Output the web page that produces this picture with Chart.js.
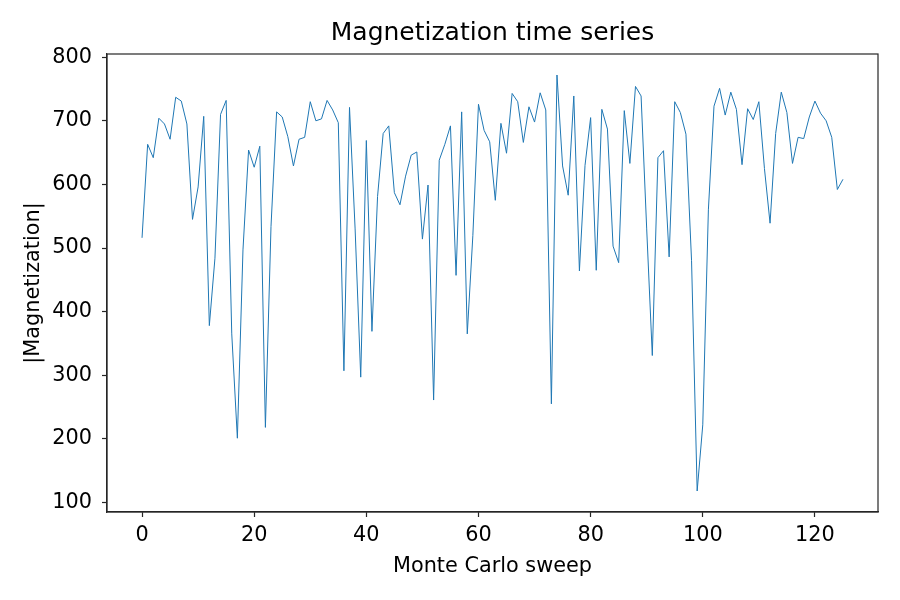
<!DOCTYPE html>
<html>
<head>
<meta charset="utf-8">
<title>Magnetization time series</title>
<script src="https://cdn.jsdelivr.net/npm/chart.js@4.4.1/dist/chart.umd.min.js"></script>
<style>
	html, body { margin: 0; padding: 0; background: #fff; }
	canvas { display: block; }
</style>
</head>
<body>
<canvas id="my_chart" width="900" height="600"></canvas>
<script>

// Data
const magnetization = [
	516, 663, 642, 704, 695, 671, 737, 731, 695, 545,
	596, 707, 378, 484, 710, 732, 365, 201, 497, 654,
	627, 660, 218, 534, 714, 706, 675, 629, 671, 674,
	730, 700, 703, 732, 717, 697, 307, 721, 530, 297,
	669, 369, 581, 680, 692, 587, 568, 613, 646, 651,
	514, 599, 261, 638, 663, 692, 457, 714, 365, 520,
	726, 685, 667, 575, 696, 649, 743, 730, 666, 722,
	698, 744, 717, 255, 772, 629, 583, 739, 464, 630,
	705, 465, 718, 687, 503, 477, 716, 633, 754, 739,
	530, 331, 642, 653, 486, 730, 713, 679, 480, 118,
	222, 560, 723, 751, 709, 745, 718, 631, 719, 702,
	730, 625, 539, 680, 745, 713, 633, 674, 672, 706,
	731, 712, 700, 674, 592, 608
]
const x_ticks = [0, 20, 40, 60, 80, 100, 120]
const y_ticks = [100, 200, 300, 400, 500, 600, 700, 800]

const font_family = "'DejaVu Sans', 'Liberation Sans', sans-serif"
const axis_color = '#262626'

// Draw the top and right spines like a boxed axes
const frame = {
	id: 'frame',
	afterDraw(chart) {
		const { ctx, chartArea } = chart
		ctx.save()
		ctx.strokeStyle = axis_color
		ctx.lineWidth = 1.2
		ctx.strokeRect(chartArea.left, chartArea.top,
			chartArea.right - chartArea.left, chartArea.bottom - chartArea.top)
		ctx.restore()
	}
}

var ctx = document.getElementById('my_chart')
var chart = new Chart(ctx, {
	type: 'line',
	data: {
		datasets: [{
			data: magnetization.map((m, i) => ({ x: i, y: m })),
			borderColor: '#1f77b4',
			borderWidth: 1,
			pointRadius: 0,
			tension: 0,
			fill: false
		}]
	},
	plugins: [frame],
	options: {
		responsive: false,
		animation: false,
		devicePixelRatio: 1,
		layout: {
			padding: { left: 0, right: 22, top: 0, bottom: 0 }
		},
		plugins: {
			legend: { display: false },
			tooltip: { enabled: false },
			title: {
				display: true,
				fullSize: false,	// center over the plot area, not the canvas
				text: 'Magnetization time series',
				color: '#000',
				font: { family: font_family, size: 25, weight: 'normal', lineHeight: 1.2 },
				padding: { top: 18, bottom: 6 }
			}
		},
		scales: {
			x: {
				type: 'linear',
				min: -6.25,
				max: 131.25,
				afterBuildTicks: (scale) => { scale.ticks = x_ticks.map(v => ({ value: v })) },
				afterFit: (scale) => { scale.height = 88 },
				grid: { drawOnChartArea: false, drawTicks: true, tickLength: 5, tickWidth: 1.2, color: axis_color },
				border: { display: true, color: axis_color, width: 1.2 },
				ticks: {
					color: '#000',
					padding: 6,
					maxRotation: 0,
					font: { family: font_family, size: 20.8, lineHeight: 1.2 }
				},
				title: {
					display: true,
					text: 'Monte Carlo sweep',
					color: '#000',
					font: { family: font_family, size: 20.8, lineHeight: 1.2 },
					padding: { top: 0, bottom: 21 }
				}
			},
			y: {
				type: 'linear',
				min: 85,
				max: 805,
				afterBuildTicks: (scale) => { scale.ticks = y_ticks.map(v => ({ value: v })) },
				afterFit: (scale) => { scale.width = 107 },
				grid: { drawOnChartArea: false, drawTicks: true, tickLength: 5, tickWidth: 1.2, color: axis_color },
				border: { display: true, color: axis_color, width: 1.2 },
				ticks: {
					color: '#000',
					padding: 10,
					font: { family: font_family, size: 20.8, lineHeight: 1.2 }
				},
				title: {
					display: true,
					text: '|Magnetization|',
					color: '#000',
					font: { family: font_family, size: 20.8, lineHeight: 1.2 },
					padding: { top: 21, bottom: 0 }
				}
			}
		}
	}
})

</script>
</body>
</html>
